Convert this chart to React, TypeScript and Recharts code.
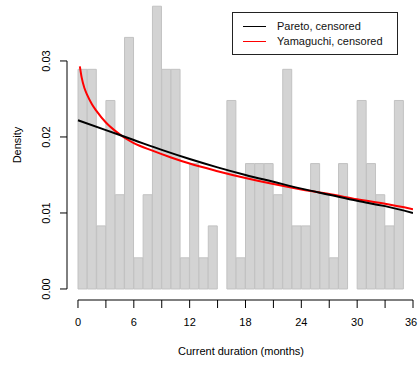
import React from "react";
import {
  ComposedChart,
  Bar,
  Line,
  XAxis,
  YAxis,
  ReferenceLine,
} from "recharts";

document.body.style.margin = "0";

// histogram bins, 1 month wide
const binMids = [
  0.5, 1.5, 2.5, 3.5, 4.5, 5.5, 6.5, 7.5, 8.5, 9.5, 10.5, 11.5, 12.5, 13.5,
  14.5, 15.5, 16.5, 17.5, 18.5, 19.5, 20.5, 21.5, 22.5, 23.5, 24.5, 25.5, 26.5,
  27.5, 28.5, 29.5, 30.5, 31.5, 32.5, 33.5, 34.5, 35.5,
];
const binDensity = [
  0.0289, 0.0289, 0.0083, 0.0248, 0.0124, 0.0331, 0.0041, 0.0124, 0.0372,
  0.0289, 0.0289, 0.0041, 0.0165, 0.0041, 0.0083, 0, 0.0248, 0.0041, 0.0165,
  0.0165, 0.0165, 0.0124, 0.0289, 0.0083, 0.0083, 0.0165, 0.0124, 0.0041,
  0.0165, 0, 0.0248, 0.0165, 0.0124, 0.0083, 0.0248, 0,
];

// fitted densities
const paretoMonths = [0, 3, 6, 9, 12, 15, 18, 21, 24, 27, 30, 33, 36];
const paretoValues = [
  0.0222, 0.0209, 0.0196, 0.0183, 0.0171, 0.016, 0.015, 0.0141, 0.0132,
  0.0124, 0.0116, 0.0109, 0.01,
];
const yamaguchiMonths = [
  0.2, 0.4, 0.7, 1, 1.5, 2, 3, 4, 5, 6, 8, 10, 12, 15, 18, 21, 24, 27, 30, 33,
  36,
];
const yamaguchiValues = [
  0.0293, 0.0278, 0.0264, 0.0255, 0.0243, 0.0234, 0.0219, 0.0208, 0.0199,
  0.0192, 0.0182, 0.0173, 0.0165, 0.0155, 0.0146, 0.0138, 0.0131, 0.0125,
  0.0118, 0.0112, 0.0105,
];

const xTicks = [0, 3, 6, 9, 12, 15, 18, 21, 24, 27, 30, 33, 36];
const yTicks = [0, 0.01, 0.02, 0.03];

const bins = binMids.map((mid, i) => ({ mid, density: binDensity[i] }));
const pareto = paretoMonths.map((m, i) => ({ m, v: paretoValues[i] }));
const yamaguchi = yamaguchiMonths.map((m, i) => ({ m, v: yamaguchiValues[i] }));

// R-style axes sit a little outside the data region
const X_MIN = -1.18;
const Y_MIN = -0.00145;
const Y_MAX = 0.03802;

const FONT = "'Liberation Sans', Arial, sans-serif";

const XTick = (props: any) => {
  const { x, y, payload } = props;
  if (payload.value % 6 !== 0) return null;
  return (
    <text x={x} y={y + 16} textAnchor="middle" fontSize={11} fill="#000" fontFamily={FONT}>
      {payload.value}
    </text>
  );
};

const YTick = (props: any) => {
  const { x, y, payload } = props;
  const tx = x - 17;
  return (
    <g>
      <line x1={x - 7} y1={y} x2={x} y2={y} stroke="#000" />
      <text
        x={tx}
        y={y}
        transform={`rotate(-90, ${tx}, ${y})`}
        textAnchor="middle"
        fontSize={11}
        fill="#000"
        fontFamily={FONT}
      >
        {payload.value.toFixed(2)}
      </text>
    </g>
  );
};

const legendRows = [
  { name: "Pareto, censored", color: "#000", top: 7 },
  { name: "Yamaguchi, censored", color: "#ff0000", top: 22 },
];

const LegendBox = () => (
  <div
    style={{
      position: "absolute",
      left: 232,
      top: 12,
      border: "1px solid #222",
      width: 164,
      height: 41,
      fontFamily: FONT,
      fontSize: 11,
      background: "#fff",
    }}
  >
    {legendRows.map((r) => (
      <div key={r.name} style={{ position: "absolute", left: 0, top: r.top, height: 13, width: 164 }}>
        <div
          style={{
            position: "absolute",
            left: 10,
            top: 6,
            width: 23,
            height: 0,
            borderTop: `1.5px solid ${r.color}`,
          }}
        />
        <span style={{ position: "absolute", left: 44, top: 0, lineHeight: "13px", color: "#111" }}>
          {r.name}
        </span>
      </div>
    ))}
  </div>
);

export default function App() {
  return (
    <div style={{ width: 419, height: 365, background: "#fff", position: "relative" }}>
      <ComposedChart
        width={419}
        height={365}
        data={bins}
        margin={{ top: 0, right: 6, bottom: 0, left: 0 }}
        barCategoryGap={0}
        barGap={0}
      >
        <XAxis
          xAxisId="bars"
          dataKey="mid"
          type="category"
          hide
          height={0}
          padding={{ left: 11, right: 0 }}
        />
        <XAxis
          xAxisId="num"
          dataKey="m"
          type="number"
          domain={[X_MIN, 36]}
          ticks={xTicks}
          allowDataOverflow
          height={65}
          axisLine={false}
          stroke="#000"
          tickSize={8}
          tickMargin={2}
          tick={<XTick />}
          label={{
            content: () => (
              <text x={241} y={355} textAnchor="middle" fontSize={11} fill="#000" fontFamily={FONT}>
                Current duration (months)
              </text>
            ),
          }}
        />
        <YAxis
          type="number"
          domain={[Y_MIN, Y_MAX]}
          ticks={yTicks}
          allowDataOverflow
          width={67}
          axisLine={false}
          tickLine={false}
          tickSize={0}
          tickMargin={0}
          tick={<YTick />}
          label={{
            content: () => (
              <text
                x={21}
                y={145}
                transform="rotate(-90, 21, 145)"
                textAnchor="middle"
                fontSize={11}
                fill="#000"
                fontFamily={FONT}
              >
                Density
              </text>
            ),
          }}
        />
        <Bar
          xAxisId="bars"
          dataKey="density"
          fill="#d3d3d3"
          stroke="#c2c2c2"
          strokeWidth={1}
          isAnimationActive={false}
        />
        {/* y axis line: 0 to 0.03 */}
        <ReferenceLine
          xAxisId="num"
          segment={[
            { x: X_MIN, y: yTicks[0] },
            { x: X_MIN, y: yTicks[yTicks.length - 1] },
          ]}
          stroke="#000"
          ifOverflow="visible"
        />
        {/* x axis line: 0 to 36 */}
        <ReferenceLine
          xAxisId="num"
          segment={[
            { x: xTicks[0], y: Y_MIN },
            { x: xTicks[xTicks.length - 1], y: Y_MIN },
          ]}
          stroke="#000"
          ifOverflow="visible"
        />
        <Line
          xAxisId="num"
          data={yamaguchi}
          dataKey="v"
          type="monotone"
          stroke="#ff0000"
          strokeWidth={2}
          dot={false}
          isAnimationActive={false}
        />
        <Line
          xAxisId="num"
          data={pareto}
          dataKey="v"
          type="monotone"
          stroke="#000"
          strokeWidth={2}
          dot={false}
          isAnimationActive={false}
        />
      </ComposedChart>
      <LegendBox />
    </div>
  );
}
